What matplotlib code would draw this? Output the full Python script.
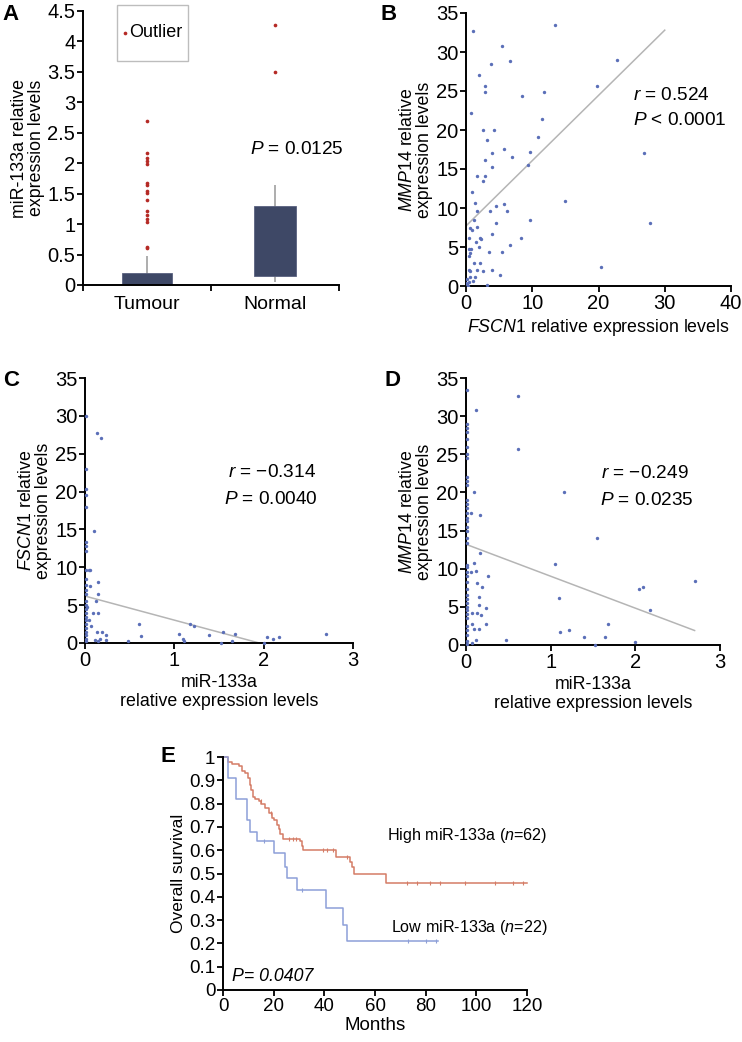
import numpy as np
import matplotlib
matplotlib.use("Agg")
import matplotlib.pyplot as plt
from matplotlib.patches import Rectangle

plt.rcParams['font.family'] = ['Liberation Sans', 'DejaVu Sans']
plt.rcParams['mathtext.fontset'] = 'custom'
plt.rcParams['mathtext.rm'] = 'Liberation Sans'
plt.rcParams['mathtext.it'] = 'Liberation Sans:italic'

# ---- A: box plot summary ----
groups = ['Tumour', 'Normal']
box_q1 = [0.0, 0.14]
box_q3 = [0.20, 1.30]
whisk_lo = [0.0, 0.05]
whisk_hi = [0.48, 1.65]
outl_tumour = [2.70, 2.16, 2.08, 2.03, 1.99, 1.68, 1.64, 1.54, 1.51, 1.40,
               1.22, 1.15, 1.09, 1.04, 0.63, 0.60]
outl_normal = [4.27, 3.49]

# ---- B: FSCN1 vs MMP14 ----
fscn1_b = [1.1, 13.4, 5.5, 3.7, 6.7, 22.8, 2.0, 2.8, 2.8, 8.5, 11.8, 19.7, 0.7, 11.5,
           2.6, 4.3, 10.9, 3.2, 5.7, 9.7, 3.9, 6.9, 2.8, 26.9, 9.4, 3.9, 1.7, 2.8, 2.5,
           0.9, 1.4, 1.6, 5.8, 6.2, 4.6, 3.6, 15.0, 9.7, 4.5, 27.7, 1.2, 1.6, 0.6, 0.9,
           0.5, 2.1, 2.3, 1.5, 4.0, 8.3, 6.6, 1.9, 0.5, 0.7, 0.6, 0.5, 3.5, 5.5, 1.2,
           2.1, 0.4, 0.6, 1.6, 2.6, 4.0, 5.2, 20.4, 1.3, 1.1, 0.2, 0.4, 0.1, 0.3, 3.1,
           0.0, 0.6]
mmp14_b = [32.7, 33.4, 30.8, 28.4, 28.9, 29.0, 27.0, 25.7, 24.9, 24.4, 24.9, 25.7, 22.2,
           21.4, 20.0, 20.0, 19.1, 18.7, 17.6, 17.2, 17.0, 16.6, 16.2, 17.1, 15.5, 15.3,
           14.1, 14.1, 13.4, 12.1, 10.7, 9.6, 10.5, 9.6, 10.2, 9.6, 10.9, 8.4, 8.1, 8.1,
           8.4, 7.6, 7.5, 7.2, 6.1, 6.2, 6.0, 5.6, 6.7, 6.2, 5.2, 5.0, 4.7, 4.7, 4.2,
           3.9, 4.3, 4.3, 2.9, 2.9, 2.0, 1.9, 2.1, 1.9, 2.0, 1.4, 2.4, 1.1, 0.6, 0.9,
           0.5, 0.2, 0.0, 0.1, 0.4, 1.1]
fit_b_x = [0, 30]
fit_b_y = [7.7, 32.8]

# ---- C: miR-133a vs FSCN1 ----
mir_c = [0.01] * 25 + [0.13, 0.18, 0.10, 0.04, 0.06, 0.15, 0.06, 0.15, 0.12, 0.09, 0.15,
                       0.02, 0.05, 0.07, 0.13, 0.19, 0.24, 0.24, 0.11, 0.17, 0.15, 0.48,
                       0.61, 0.63, 1.05, 1.10, 1.11, 1.17, 1.22, 1.39, 1.54, 1.52, 1.68,
                       1.64, 2.00, 2.04, 2.10, 2.17, 2.70]
fscn1_c = [30.0, 23.0, 20.4, 19.5, 18.0, 13.3, 12.8, 12.2, 9.6, 8.5, 7.7, 7.0, 6.5, 5.5,
           5.0, 4.5, 4.0, 3.5, 3.0, 2.5, 2.0, 1.5, 1.0, 0.5, 0.2,
           27.8, 27.1, 14.8, 9.7, 9.7, 8.1, 7.5, 6.5, 5.5, 4.0, 4.0, 4.8, 3.1, 2.2, 1.5,
           1.5, 1.0, 0.35, 0.4, 0.5, 0.2, 0.2, 2.55, 0.9, 1.2, 0.5, 0.2, 2.5, 2.3, 1.1,
           1.5, 0.0, 1.2, 0.2, 0.0, 0.8, 0.5, 0.8, 1.2]
fit_c_x = [0, 1.95]
fit_c_y = [6.2, 0.0]

# ---- D: miR-133a vs MMP14 ----
mir_d = [0.01] * 39 + [0.12, 0.62, 0.62, 0.09, 0.06, 0.17, 0.17, 0.09, 0.06, 0.12, 0.13,
                       0.19, 0.26, 0.15, 0.15, 0.24, 0.07, 0.13, 0.18, 0.24, 0.07, 0.10,
                       0.15, 0.12, 0.07, 0.47, 1.05, 1.16, 1.10, 1.11, 1.22, 1.39, 1.55,
                       1.52, 1.64, 1.68, 2.00, 2.04, 2.09, 2.17, 2.70]
mmp14_d = [33.4, 29.0, 28.5, 27.9, 27.0, 25.9, 25.0, 24.5, 22.0, 21.5, 21.0, 19.0, 18.5,
           18.0, 17.3, 16.6, 16.2, 15.5, 15.0, 14.0, 13.4, 10.5, 10.2, 9.6, 9.0, 8.3,
           7.3, 6.5, 6.0, 5.5, 5.0, 4.6, 4.1, 3.5, 2.5, 2.0, 1.3, 0.5, 0.1,
           30.8, 32.7, 25.7, 20.0, 17.3, 17.1, 12.1, 10.8, 9.6, 9.7, 8.1, 7.6, 9.0, 6.3,
           5.2, 4.8, 4.2, 4.2, 3.9, 2.8, 2.8, 2.1, 2.1, 0.7, 0.2, 0.7, 10.6, 20.0, 6.1,
           1.75, 2.0, 1.0, 14.0, 0.0, 1.0, 2.8, 0.35, 7.3, 7.6, 4.6, 8.4]
fit_d_x = [0, 2.7]
fit_d_y = [13.2, 1.9]

# ---- E: Kaplan-Meier ----
high_t = [0, 1.8, 3.6, 6.2, 7.5, 8.8, 9.9, 10.5, 11.2, 11.8, 12.8, 14.1, 15.1, 16.7, 18.0,
          19.3, 20.3, 21.3, 22.0, 22.6, 23.6, 30.5, 31.2, 31.6, 44.7, 50.0, 50.9, 51.8,
          64.5, 120]
high_s = [1.0, 0.98, 0.97, 0.96, 0.94, 0.93, 0.91, 0.88, 0.86, 0.83, 0.82, 0.81, 0.80,
          0.78, 0.76, 0.74, 0.73, 0.71, 0.69, 0.67, 0.65, 0.64, 0.62, 0.60, 0.57, 0.55,
          0.53, 0.50, 0.46, 0.46]
high_cens = [15.0, 19.0, 26.0, 27.5, 29.0, 39.5, 41.0, 43.5, 49.0, 72.6, 76.6, 81.7, 85.7,
             95.5, 107.4, 114.5, 118.4]
low_t = [0, 1.8, 5.3, 9.5, 10.5, 13.5, 20.0, 24.5, 25.3, 29.2, 40.7, 47.2, 49.0, 85]
low_s = [1.0, 0.91, 0.82, 0.73, 0.68, 0.64, 0.59, 0.53, 0.48, 0.43, 0.35, 0.28, 0.21, 0.21]
low_cens = [16.0, 31.0, 73.0, 80.0, 84.0]

W, H = 742, 1042
fig = plt.figure(figsize=(W / 100, H / 100), dpi=100)

TICK = 14.5
LAB = 12.8
ANN = 13.7


def make_ax(left, top, right, bottom, tick=TICK):
    ax = fig.add_axes([left / W, 1 - bottom / H, (right - left) / W, (bottom - top) / H])
    for s in ['top', 'right']:
        ax.spines[s].set_visible(False)
    for s in ['left', 'bottom']:
        ax.spines[s].set_linewidth(1.4)
    ax.tick_params(direction='out', length=4, width=1.3, labelsize=tick, pad=1.5)
    return ax


def step_value(t, s, when):
    # survival level in force at a given time (for censor marks)
    return [s[np.searchsorted(t, c, side='right') - 1] for c in when]


dot_col = '#5b6fb8'
fit_col = '#b5b5b5'
red = '#b52a25'

# A
axA = make_ax(83, 11, 339, 285)
xs = [0.5, 1.5]
widths = [0.39, 0.33]
axA.vlines(xs, whisk_lo, whisk_hi, color='#a0a0a0', lw=1.2, zorder=1)
axA.bar(xs, np.array(box_q3) - np.array(box_q1), bottom=box_q1, width=widths,
        color='#3e4866', edgecolor='#59617f', lw=0.6, zorder=2)
axA.scatter([xs[0]] * len(outl_tumour), outl_tumour, s=7, color=red, zorder=3,
            linewidths=0)
axA.scatter([xs[1]] * len(outl_normal), outl_normal, s=7, color=red, zorder=3,
            linewidths=0)
axA.set_xlim(0, 2)
axA.set_ylim(0, 4.5)
axA.set_yticks(np.arange(0, 4.6, 0.5))
axA.set_yticklabels(['0', '0.5', '1', '1.5', '2', '2.5', '3', '3.5', '4', '4.5'])
axA.set_xticks([0, 1, 2])
axA.set_xticklabels([])
axA.set_xticks(xs, groups, minor=True)
axA.tick_params(axis='x', which='minor', length=0, labelsize=14, pad=8)
axA.set_ylabel('miR-133a relative\nexpression levels', fontsize=LAB, labelpad=2,
               linespacing=1.0)
# legend box
axA.add_patch(Rectangle((0.133, 0.818), 0.277, 0.204, transform=axA.transAxes,
                        fill=False, ec='#bdbdbd', lw=1.0, clip_on=False))
axA.scatter([0.165], [0.92], s=7, color=red, transform=axA.transAxes, linewidths=0,
            clip_on=False)
axA.text(0.180, 0.92, 'Outlier', fontsize=13, va='center', transform=axA.transAxes)
axA.text(1.67, 2.22, r'$\mathit{P}$ = 0.0125', fontsize=ANN, ha='center', va='center')
fig.text(2 / W, 1 - 15 / H, 'A', fontsize=16, fontweight='bold', va='center')

# B
axB = make_ax(466, 13, 731, 286)
axB.scatter(fscn1_b, mmp14_b, s=6, color=dot_col, zorder=3, linewidths=0)
axB.plot(fit_b_x, fit_b_y, color=fit_col, lw=1.1, zorder=2)
axB.set_xlim(0, 40)
axB.set_ylim(0, 35)
axB.set_xticks(range(0, 41, 10))
axB.set_yticks(range(0, 36, 5))
axB.set_xlabel(r'$\mathit{FSCN1}$ relative expression levels', fontsize=LAB, labelpad=3)
axB.set_ylabel('$\\mathit{MMP14}$ relative\nexpression levels', fontsize=LAB,
               labelpad=2, linespacing=1.0)
axB.text(25.2, 24.4, r'$\mathit{r}$ = 0.524', fontsize=ANN, va='center')
axB.text(25.2, 21.2, r'$\mathit{P}$ < 0.0001', fontsize=ANN, va='center')
fig.text(381 / W, 1 - 14 / H, 'B', fontsize=16, fontweight='bold', va='center')

# C
axC = make_ax(85, 378, 353, 643)
axC.scatter(mir_c, fscn1_c, s=6, color=dot_col, zorder=3, linewidths=0, clip_on=False)
axC.plot(fit_c_x, fit_c_y, color=fit_col, lw=1.1, zorder=2)
axC.set_xlim(0, 3)
axC.set_ylim(0, 35)
axC.set_xticks(range(0, 4))
axC.set_yticks(range(0, 36, 5))
axC.set_xlabel('miR-133a\nrelative expression levels', fontsize=LAB, labelpad=3,
               linespacing=1.2)
axC.set_ylabel('$\\mathit{FSCN1}$ relative\nexpression levels', fontsize=LAB,
               labelpad=2, linespacing=1.0)
axC.text(1.6, 22.5, r'$\mathit{r}$ = $-$0.314', fontsize=ANN, va='center')
axC.text(1.56, 19.0, r'$\mathit{P}$ = 0.0040', fontsize=ANN, va='center')
fig.text(3 / W, 1 - 380 / H, 'C', fontsize=16, fontweight='bold', va='center')

# D
axD = make_ax(466, 378, 720, 645)
axD.scatter(mir_d, mmp14_d, s=6, color=dot_col, zorder=3, linewidths=0, clip_on=False)
axD.plot(fit_d_x, fit_d_y, color=fit_col, lw=1.1, zorder=2)
axD.set_xlim(0, 3)
axD.set_ylim(0, 35)
axD.set_xticks(range(0, 4))
axD.set_yticks(range(0, 36, 5))
axD.set_xlabel('miR-133a\nrelative expression levels', fontsize=LAB, labelpad=3,
               linespacing=1.2)
axD.set_ylabel('$\\mathit{MMP14}$ relative\nexpression levels', fontsize=LAB,
               labelpad=2, linespacing=1.0)
axD.text(1.6, 22.5, r'$\mathit{r}$ = $-$0.249', fontsize=ANN, va='center')
axD.text(1.58, 19.0, r'$\mathit{P}$ = 0.0235', fontsize=ANN, va='center')
fig.text(384 / W, 1 - 381 / H, 'D', fontsize=16, fontweight='bold', va='center')

# E
axE = make_ax(223, 757, 527, 990, tick=13.5)
hi_col = '#d47c66'
lo_col = '#8d9fd8'
axE.step(high_t, high_s, where='post', color=hi_col, lw=1.1, clip_on=False)
axE.step(low_t, low_s, where='post', color=lo_col, lw=1.1, clip_on=False)
axE.plot(high_cens, step_value(high_t, high_s, high_cens), ls='none', marker='|', ms=3,
         color=hi_col, mew=0.8)
axE.plot(low_cens, step_value(low_t, low_s, low_cens), ls='none', marker='|', ms=3,
         color=lo_col, mew=0.8)
axE.set_xlim(0, 120)
axE.set_ylim(0, 1)
axE.set_xticks(range(0, 121, 20))
axE.set_yticks(np.arange(0, 1.01, 0.1))
axE.set_yticklabels(['0', '0.1', '0.2', '0.3', '0.4', '0.5', '0.6', '0.7', '0.8', '0.9', '1'])
axE.set_xlabel('Months', fontsize=13.5, labelpad=2)
axE.set_ylabel('Overall survival', fontsize=12.5, labelpad=2)
axE.text(64.7, 0.665, r'High miR-133a ($\mathit{n}$=62)', fontsize=11.6, va='center',
         clip_on=False)
axE.text(66.5, 0.27, r'Low miR-133a ($\mathit{n}$=22)', fontsize=11.6, va='center',
         clip_on=False)
axE.text(3.6, 0.06, 'P= 0.0407', fontsize=12.8, va='center', style='italic')
fig.text(160 / W, 1 - 757 / H, 'E', fontsize=16, fontweight='bold', va='center')

fig.savefig('out.png', dpi=100)
